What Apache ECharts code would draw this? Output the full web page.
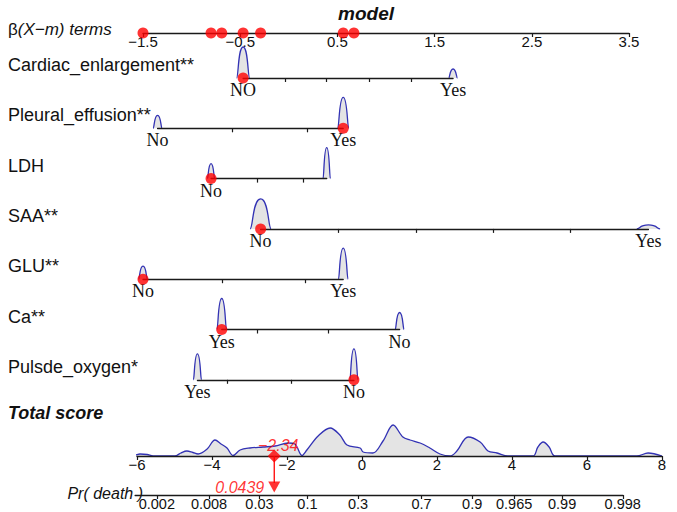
<!DOCTYPE html>
<html><head><meta charset="utf-8">
<script src="https://cdn.jsdelivr.net/npm/echarts@6/dist/echarts.min.js"></script>
<style>html,body{margin:0;padding:0;background:#fff}#c{width:677px;height:512px}</style>
</head><body><div id="c"></div>
<script>
// ---------------- data ----------------
const betaTicks = [-1.5, -0.5, 0.5, 1.5, 2.5, 3.5];
const varNames = ['Cardiac_enlargement**', 'Pleural_effusion**', 'LDH', 'SAA**', 'GLU**', 'Ca**', 'Pulsde_oxygen*'];
const levelNames = [['NO', 'Yes'], ['No', 'Yes'], ['No', ''], ['No', 'Yes'], ['No', 'Yes'], ['Yes', 'No'], ['Yes', 'No']];
const levelBetas = [[-0.47, 1.69], [-1.35, 0.56], [-0.80, 0.39], [-0.29, 3.70], [-1.50, 0.56], [-0.69, 1.14], [-0.94, 0.67]];
const rowTicks = [[-0.04, 0.39, 0.83, 1.26], [-0.58, 0.19], [-0.32, 0.15], [0.51, 1.31, 2.10, 2.90], [-0.68, 0.17], [-0.32, 0.41], [-0.63, 0.03]];
const selectedLevel = [0, 1, 0, 0, 0, 0, 1];
const bumpHeights = [[31, 9], [13, 31], [15, 31], [30, 4], [13, 31], [31, 17], [26, 31]];
const bumpHalfWidths = [[0.067, 0.045], [0.046, 0.057], [0.038, 0.038], [0.108, 0.12], [0.046, 0.05], [0.05, 0.046], [0.042, 0.042]];

const totalX = [-6.24, -6.05, -5.92, -5.73, -5.57, -4.99, -4.83, -4.67, -4.51, -4.37, -4.13, -3.92, -3.76, -3.60, -3.44, -3.25, -2.99, -2.64, -2.32, -1.97, -1.79, -1.60, -1.47, -1.17, -0.85, -0.59, -0.40, -0.05, 0.03, 0.29, 0.56, 0.83, 1.09, 1.28, 1.55, 1.81, 2.08, 2.35, 2.53, 2.83, 3.15, 3.36, 3.60, 3.89, 4.56, 4.69, 4.83, 4.99, 5.15, 7.33, 7.63, 8.0];
const totalH = [0, 1, 2, 1.5, 0, 0, 3, 5, 3.5, 2, 7, 16, 12, 8, 0.5, 6, 8, 9, 10, 13, 12, 0.5, 6, 20, 28, 21, 11, 8, 4, 3, 15, 31, 19, 16, 13, 8, 2, 0, 5, 19, 14, 5, 3, 0, 0, 9, 14, 9, 0, 0, 3, 0];
const totalTicks = [-6, -4, -2, 0, 2, 4, 6, 8];
const prTicks = [0.002, 0.008, 0.03, 0.1, 0.3, 0.7, 0.9, 0.965, 0.99, 0.998];
const prAxisRange = [-6.05, 6.96];
const totalScore = -2.34;
const prDeath = 0.0439;

// ---------------- style / layout ----------------
const SANS = "'Liberation Sans', Arial, sans-serif";
const SERIF = "'Liberation Serif', 'Times New Roman', serif";
const BLUE = '#3232b4';
const RED = '#ff0000';
const AXIS = '#1a1a1a';
const FILL = '#e4e4e4';
const minus = v => String(v).replace('-', '\u2212');

const betaLeft = 143, betaWidth = 486;
const betaMin = betaTicks[0], betaMax = betaTicks[betaTicks.length - 1];
const pxPerBeta = betaWidth / (betaMax - betaMin);
const rowLineY0 = 78, rowStep = 50.3, rowH = 34;
const totalLeft = 137, totalWidth = 525, totalAxisY = 456, densH = 40;
const totalMin = totalTicks[0], totalMax = totalTicks[totalTicks.length - 1];
const pxPerScore = totalWidth / (totalMax - totalMin);
const prAxisY = 495;

const logit = p => Math.log(p / (1 - p));
const prOffset = totalScore - logit(prDeath);
const prPos = prTicks.map(p => logit(p) + prOffset);

function bumpRender(params, api) {
  const c = api.value(0), h = api.value(1), w = api.value(2);
  const b = api.coord([c, 0]);
  const p = api.coord([c, h]);
  const l = api.coord([c - w, 0]);
  const r = api.coord([c + w, 0]);
  const x = b[0], by = b[1], py = p[1];
  const wl = x - l[0], wr = r[0] - x;
  const d = 'M' + l[0] + ',' + by +
    ' C' + (x - wl * 0.72) + ',' + by + ' ' + (x - wl * 0.78) + ',' + py + ' ' + x + ',' + py +
    ' C' + (x + wr * 0.78) + ',' + py + ' ' + (x + wr * 0.72) + ',' + by + ' ' + r[0] + ',' + by;
  return { type: 'path', shape: { pathData: d }, style: { fill: FILL, stroke: BLUE, lineWidth: 1.3 } };
}

const grids = [], xAxes = [], yAxes = [], series = [];
const axisCommon = {
  type: 'value', splitLine: { show: false },
  axisLine: { lineStyle: { color: AXIS, width: 1.3 } },
};

// top beta axis
grids.push({ left: betaLeft, width: betaWidth, top: 13, height: 20, outerBoundsMode: 'none' });
xAxes.push(Object.assign({}, axisCommon, {
  gridIndex: 0, min: betaMin, max: betaMax,
  axisTick: { show: true, customValues: betaTicks, length: 4, lineStyle: { color: AXIS, width: 1.2 } },
  axisLabel: { customValues: betaTicks, formatter: minus, margin: 1, fontSize: 15, fontFamily: SANS, color: '#111' }
}));
yAxes.push({ gridIndex: 0, type: 'value', min: 0, max: 20, show: false });
series.push({
  type: 'scatter', xAxisIndex: 0, yAxisIndex: 0, symbolSize: 11, z: 10,
  itemStyle: { color: RED },
  data: levelBetas.map((lv, i) => [lv[selectedLevel[i]], 0])
});

// variable rows
varNames.forEach((name, i) => {
  const gi = i + 1;
  const lv = levelBetas[i];
  const mn = Math.min(lv[0], lv[1]), mx = Math.max(lv[0], lv[1]);
  const lineY = rowLineY0 + rowStep * i;
  grids.push({
    left: betaLeft + (mn - betaMin) * pxPerBeta, width: (mx - mn) * pxPerBeta,
    top: lineY - rowH, height: rowH, outerBoundsMode: 'none'
  });
  xAxes.push(Object.assign({}, axisCommon, {
    gridIndex: gi, min: mn, max: mx, z: 3,
    axisTick: { show: true, customValues: rowTicks[i], length: 4, lineStyle: { color: AXIS, width: 1.2 } },
    axisLabel: {
      customValues: lv, margin: 3, fontSize: 18, fontFamily: SERIF, color: '#111',
      formatter: v => levelNames[i][Math.abs(v - lv[0]) < Math.abs(v - lv[1]) ? 0 : 1]
    }
  }));
  yAxes.push({ gridIndex: gi, type: 'value', min: 0, max: rowH, show: false });
  series.push({
    type: 'custom', xAxisIndex: gi, yAxisIndex: gi, renderItem: bumpRender, z: 2,
    encode: { x: 0, y: 1 },
    data: lv.map((b, k) => [b, bumpHeights[i][k], bumpHalfWidths[i][k]])
  });
  series.push({
    type: 'scatter', xAxisIndex: gi, yAxisIndex: gi, symbolSize: 11, z: 10,
    itemStyle: { color: RED }, data: [[lv[selectedLevel[i]], 0]]
  });
});

// total score axis with density
const gT = grids.length;
grids.push({ left: totalLeft, width: totalWidth, top: totalAxisY - densH, height: densH, outerBoundsMode: 'none' });
xAxes.push(Object.assign({}, axisCommon, {
  gridIndex: gT, min: totalMin, max: totalMax, interval: 2, z: 5,
  axisTick: { length: 4, lineStyle: { color: AXIS, width: 1.2 } },
  axisLabel: { formatter: minus, margin: 1, fontSize: 15, fontFamily: SANS, color: '#111' }
}));
yAxes.push({ gridIndex: gT, type: 'value', min: 0, max: densH, show: false });
series.push({
  type: 'line', xAxisIndex: gT, yAxisIndex: gT, smooth: 0.35, showSymbol: false, z: 2,
  lineStyle: { color: BLUE, width: 1.3 }, areaStyle: { color: FILL, opacity: 1 },
  data: totalX.map((x, k) => [x, totalH[k]])
});
series.push({
  type: 'scatter', xAxisIndex: gT, yAxisIndex: gT, symbol: 'diamond', symbolSize: 13, z: 12,
  itemStyle: { color: RED },
  label: {
    show: true, position: 'top', distance: -3, offset: [4, 1], formatter: minus(totalScore.toFixed(2)),
    color: RED, fontStyle: 'italic', fontSize: 16, fontFamily: SANS
  },
  data: [[totalScore, 0]]
});

// probability axis
const gP = grids.length;
grids.push({
  left: totalLeft + (prAxisRange[0] - totalMin) * pxPerScore,
  width: (prAxisRange[1] - prAxisRange[0]) * pxPerScore,
  top: totalAxisY, height: prAxisY - totalAxisY, outerBoundsMode: 'none'
});
xAxes.push(Object.assign({}, axisCommon, {
  gridIndex: gP, min: prAxisRange[0], max: prAxisRange[1],
  axisTick: { show: true, customValues: prPos, length: 4, lineStyle: { color: AXIS, width: 1.2 } },
  axisLabel: {
    customValues: prPos, margin: 1, fontSize: 14.5, fontFamily: SANS, color: '#111',
    formatter: v => {
      let bi = 0;
      prPos.forEach((p, k) => { if (Math.abs(p - v) < Math.abs(prPos[bi] - v)) bi = k; });
      return String(prTicks[bi]);
    }
  }
}));
yAxes.push({ gridIndex: gP, type: 'value', min: 0, max: prAxisY - totalAxisY, show: false });
series.push({
  type: 'line', xAxisIndex: gP, yAxisIndex: gP, showSymbol: false, z: 11,
  lineStyle: { color: RED, width: 1.3 },
  data: [[totalScore, prAxisY - totalAxisY], [totalScore, 12]]
});
series.push({
  type: 'scatter', xAxisIndex: gP, yAxisIndex: gP, symbol: 'triangle', symbolRotate: 180,
  symbolSize: [12, 11], z: 12, itemStyle: { color: RED },
  label: {
    show: true, position: 'left', distance: 4, formatter: String(prDeath),
    color: RED, fontStyle: 'italic', fontSize: 16, fontFamily: SANS
  },
  data: [[totalScore, 8]]
});

// texts
const graphic = [
  {
    type: 'text', x: 8, y: 29,
    style: {
      text: '{a|β}{b|(X−m) terms}', verticalAlign: 'middle',
      rich: {
        a: { fontSize: 17, fontFamily: SANS, fill: '#111' },
        b: { fontSize: 17, fontFamily: SANS, fontStyle: 'italic', fill: '#111' }
      }
    }
  },
  { type: 'text', x: 366, y: 13, style: { text: 'model', align: 'center', verticalAlign: 'middle', fontSize: 19, fontFamily: SANS, fontStyle: 'italic', fontWeight: 'bold', fill: '#111' } },
  { type: 'text', x: 8, y: 413, style: { text: 'Total score', verticalAlign: 'middle', fontSize: 18, fontFamily: SANS, fontStyle: 'italic', fontWeight: 'bold', fill: '#111' } },
  { type: 'text', x: 143, y: 493, style: { text: 'Pr( death )', align: 'right', verticalAlign: 'middle', fontSize: 16, fontFamily: SANS, fontStyle: 'italic', fill: '#111' } }
];
varNames.forEach((name, i) => {
  graphic.push({ type: 'text', x: 8, y: rowLineY0 + rowStep * i - 13, style: { text: name, verticalAlign: 'middle', fontSize: 18, fontFamily: SANS, fill: '#111' } });
});

const chart = echarts.init(document.getElementById('c'), null, { renderer: 'svg' });
chart.setOption({
  animation: false, backgroundColor: '#fff',
  grid: grids, xAxis: xAxes, yAxis: yAxes, series: series, graphic: graphic
});
</script></body></html>
